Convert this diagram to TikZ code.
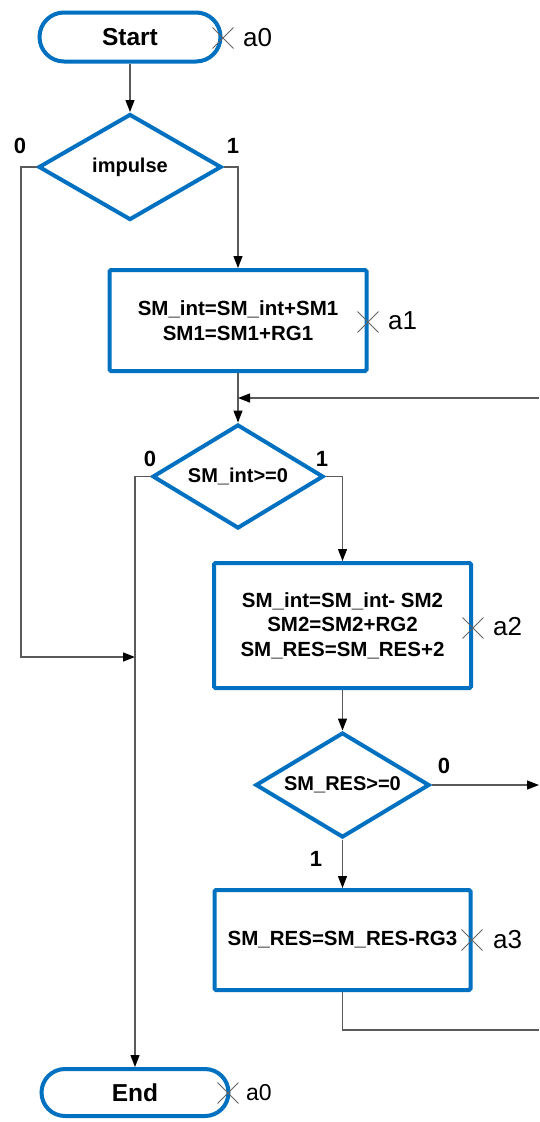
\documentclass[tikz,border=0pt]{standalone}
\usepackage{fontspec}
\setmainfont{Liberation Sans}
\usetikzlibrary{shapes.geometric,shapes.misc,arrows.meta}
\definecolor{flowblue}{RGB}{0,112,192}
\definecolor{wire}{RGB}{90,90,90}
\definecolor{mark}{RGB}{100,100,100}
\begin{document}
\begin{tikzpicture}[x=1pt,y=-1pt,
  term/.style={draw=flowblue, line width=4pt, rectangle, inner sep=0pt,
    font=\bfseries\fontsize{24.5}{28}\selectfont},
  block/.style={draw=flowblue, line width=4pt, rectangle, rounded corners=1.5pt,
    inner sep=0pt, align=center, font=\bfseries\fontsize{20.5}{24.5}\selectfont},
  test/.style={draw=flowblue, line width=4pt, diamond, aspect=1.75, inner sep=0pt,
    font=\bfseries\fontsize{20}{22}\selectfont},
  flow/.style={draw=wire, line width=1.3pt, -{Triangle[length=12pt,width=9pt,color=black]}},
  wireline/.style={draw=wire, line width=1.3pt},
  xmark/.style={cross out, draw=mark, line width=0.9pt, minimum size=20pt, inner sep=0pt},
  state/.style={anchor=west, font=\fontsize{26}{28}\selectfont, inner sep=0pt},
  branch/.style={font=\bfseries\fontsize{22}{24}\selectfont, inner sep=0pt}
]
\useasboundingbox (0,0) rectangle (539,1122);

% flowchart blocks
\node[term, minimum width=181pt, minimum height=49pt, rounded corners=24.5pt] (start) at (130,37) {Start};
\node[test, minimum width=183pt, minimum height=106pt] (d1) at (130,167) {impulse};
\node[block, minimum width=257pt, minimum height=101pt] (b1) at (238,320.5) {SM\_int=SM\_int+SM1\\SM1=SM1+RG1};
\node[test, minimum width=171pt, minimum height=104pt] (d2) at (238,476.5) {SM\_int>=0};
\node[block, minimum width=257pt, minimum height=125pt] (b2) at (342.5,625.5) {SM\_int=SM\_int- SM2\\SM2=SM2+RG2\\SM\_RES=SM\_RES+2};
\node[test, minimum width=174pt, minimum height=105pt] (d3) at (342.5,785) {SM\_RES>=0};
\node[block, minimum width=256pt, minimum height=100pt] (b3) at (342.5,940) {SM\_RES=SM\_RES-RG3};
\node[term, minimum width=187pt, minimum height=47pt, rounded corners=23.5pt] (end) at (135,1092.5) {End};

% state marks
\node[xmark] (x0) at (223,38) {};
\node[state] (s0) at (243,38) {a0};
\node[xmark] (x1) at (368,322) {};
\node[state] (s1) at (388,321) {a1};
\node[xmark] (x2) at (473,628) {};
\node[state] (s2) at (493,627) {a2};
\node[xmark] (x3) at (472,940) {};
\node[state] (s3) at (493,940) {a3};
\node[xmark] (x4) at (228,1093) {};
\node[state, font=\fontsize{23}{26}\selectfont] (s4) at (246,1093) {a0};

% junction and free ends
\coordinate (jtop) at (238,398);
\coordinate (loopin) at (539,398);
\coordinate (jleft) at (135,657);
\coordinate (out0) at (539,785);
\coordinate (outb3) at (539,1030);

% connectors
\draw[flow] (start.south) -- (d1.north);
\draw[flow] (d1.east) -- (238,167) -- (b1.north);
\draw[flow] (d1.west) -- (21,167) -- (21,657) -- (jleft);
\draw[flow] (b1.south) -- (d2.north);
\draw[flow] (loopin) -- (jtop);
\draw[flow] (d2.east) -- (342.5,476.5) -- (b2.north);
\draw[flow] (d2.west) -- (135,476.5) -- (end.north);
\draw[flow] (b2.south) -- (d3.north);
\draw[flow] (d3.east) -- (out0);
\draw[flow] (d3.south) -- (b3.north);
\draw[wireline] (b3.south) |- (outb3);

% branch labels
\node[branch] (l0a) at (20,146) {0};
\node[branch] (l1a) at (233,146) {1};
\node[branch] (l0b) at (150,459) {0};
\node[branch] (l1b) at (322,459) {1};
\node[branch] (l0c) at (444,766) {0};
\node[branch] (l1c) at (316,859) {1};
\end{tikzpicture}
\end{document}
